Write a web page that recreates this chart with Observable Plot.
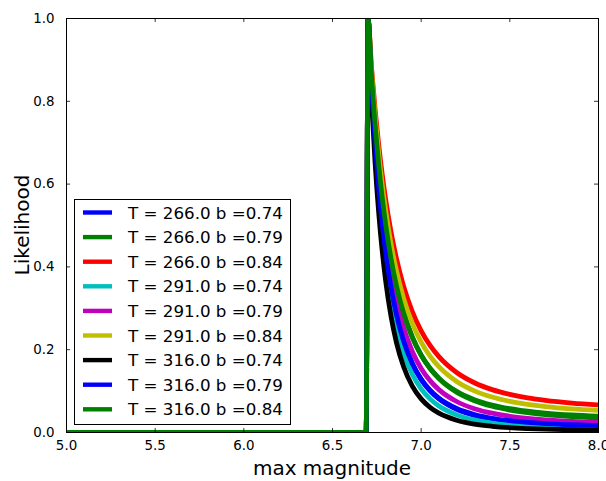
<!DOCTYPE html>
<html><head><meta charset="utf-8">
<script src="https://cdn.jsdelivr.net/npm/d3@7"></script>
<script src="https://cdn.jsdelivr.net/npm/@observablehq/plot@0.6"></script>
<style>
html,body{margin:0;padding:0;background:#fff;}
#chart{width:606px;height:481px;}
</style></head><body><div id="chart"></div>
<script>
// x grid (max magnitude)
const magnitudes = [5.0, 6.69, 6.70, 6.72, 6.74, 6.76, 6.78, 6.80, 6.83, 6.86, 6.90, 6.95, 7.00, 7.05, 7.10, 7.20, 7.30, 7.40, 7.50, 7.60, 7.70, 7.85, 8.00];
const periods = [266.0, 291.0, 316.0];
const bValues = [0.74, 0.79, 0.84];
const seriesColors = ["#0000ff", "#008000", "#ff0000", "#00bfbf", "#bf00bf", "#bfbf00", "#000000", "#0000ff", "#008000"];
// likelihood values
const L_266_074 = [0, 0, 1, .8366, .7048, .5977, .5102, .4381, .3526, .2873, .2227, .1664, .1278, .1006, .0810, .0558, .0411, .0320, .0260, .0220, .0191, .0162, .0144];
const L_266_079 = [0, 0, 1, .8625, .7485, .6533, .5735, .5062, .4238, .3587, .2918, .2307, .1868, .1545, .1302, .0972, .0768, .0634, .0543, .0479, .0433, .0385, .0354];
const L_266_084 = [0, 0, 1, .8818, .7818, .6968, .6243, .5620, .4842, .4212, .3547, .2922, .2457, .2104, .1832, .1449, .1202, .1035, .0919, .0835, .0774, .0710, .0667];
const L_291_074 = [0, 0, 1, .8228, .6821, .5696, .4790, .4056, .3197, .2556, .1934, .1407, .1054, .0812, .0640, .0426, .0304, .0231, .0185, .0153, .0132, .0110, .0097];
const L_291_079 = [0, 0, 1, .8483, .7245, .6229, .5389, .4690, .3849, .3198, .2541, .1957, .1548, .1253, .1036, .0749, .0576, .0466, .0392, .0341, .0304, .0267, .0243];
const L_291_084 = [0, 0, 1, .8725, .7658, .6760, .6001, .5355, .4556, .3917, .3252, .2635, .2184, .1846, .1589, .1232, .1006, .0856, .0752, .0678, .0625, .0569, .0532];
const L_316_074 = [0, 0, 1, .8044, .6526, .5337, .4400, .3654, .2803, .2184, .1600, .1121, .0813, .0607, .0466, .0296, .0203, .0150, .0116, .0095, .0080, .0066, .0057];
const L_316_079 = [0, 0, 1, .8347, .7020, .5947, .5071, .4354, .3505, .2859, .2222, .1668, .1289, .1022, .0829, .0580, .0435, .0344, .0285, .0245, .0216, .0187, .0169];
const L_316_084 = [0, 0, 1, .8603, .7450, .6493, .5693, .5020, .4201, .3556, .2896, .2296, .1866, .1551, .1314, .0993, .0794, .0664, .0576, .0514, .0469, .0423, .0393];
const likelihoods = [L_266_074, L_266_079, L_266_084, L_291_074, L_291_079, L_291_084, L_316_074, L_316_079, L_316_084];
const xTicks = [5.0, 5.5, 6.0, 6.5, 7.0, 7.5, 8.0];
const yTicks = [0.0, 0.2, 0.4, 0.6, 0.8, 1.0];
const xLabel = "max magnitude";
const yLabel = "Likelihood";

const series = [];
periods.forEach((T, i) => bValues.forEach((b, j) => {
  const k = i * 3 + j;
  series.push({label: `T = ${T.toFixed(1)} b =${b.toFixed(2)}`, color: seriesColors[k],
    rows: magnitudes.map((m, idx) => ({m, L: likelihoods[k][idx]}))});
}));

const W = 606, H = 481, mL = 66, mR = 8, mT = 18, mB = 49;
const innerW = W - mL - mR, innerH = H - mT - mB, tickLen = 4;
const plot = Plot.plot({
  width: W, height: H,
  marginLeft: mL, marginRight: mR, marginTop: mT, marginBottom: mB,
  style: {fontFamily: "'DejaVu Sans', sans-serif", fontSize: "13.4px", color: "#000", background: "#fff", overflow: "visible"},
  x: {domain: [5, 8], label: null},
  y: {domain: [0, 1], label: null},
  marks: [
    ...series.map(s => Plot.line(s.rows, {x: "m", y: "L", stroke: s.color, strokeWidth: 4.8, curve: "monotone-x", clip: true, strokeLinejoin: "round", strokeLinecap: "butt"})),
    Plot.frame({stroke: "#000", strokeWidth: 1}),
    // inward ticks on all four sides
    Plot.tickX(xTicks, {x: d => d, stroke: "#000", strokeWidth: 0.8, insetTop: innerH - tickLen}),
    Plot.tickX(xTicks, {x: d => d, stroke: "#000", strokeWidth: 0.8, insetBottom: innerH - tickLen}),
    Plot.tickY(yTicks, {y: d => d, stroke: "#000", strokeWidth: 0.8, insetRight: innerW - tickLen}),
    Plot.tickY(yTicks, {y: d => d, stroke: "#000", strokeWidth: 0.8, insetLeft: innerW - tickLen}),
    Plot.axisX(xTicks, {anchor: "bottom", tickSize: 0, tickPadding: 8, tickFormat: d => d.toFixed(1), label: null}),
    Plot.axisY(yTicks, {anchor: "left", tickSize: 0, tickPadding: 12, tickFormat: d => d.toFixed(1), label: null})
  ]
});
document.getElementById("chart").appendChild(plot);

const svg = d3.select(plot);
const xs = plot.scale("x"), ys = plot.scale("y");
const cx = (xs.range[0] + xs.range[1]) / 2, cy = (ys.range[0] + ys.range[1]) / 2;
svg.append("text").attr("x", cx).attr("y", 475).attr("text-anchor", "middle")
  .attr("font-family", "DejaVu Sans").attr("font-size", 20).attr("fill", "#000").text(xLabel);
svg.append("text").attr("transform", `translate(29,${cy}) rotate(-90)`).attr("text-anchor", "middle")
  .attr("font-family", "DejaVu Sans").attr("font-size", 20).attr("fill", "#000").text(yLabel);

// legend
const lg = svg.append("g").attr("text-anchor", "start");
lg.append("rect").attr("x", 74.5).attr("y", 199.5).attr("width", 216).attr("height", 225)
  .attr("fill", "#fff").attr("stroke", "#000").attr("stroke-width", 1);
series.forEach((s, i) => {
  const y = 212.5 + 24.6 * i;
  lg.append("line").attr("x1", 83).attr("x2", 112).attr("y1", y).attr("y2", y)
    .attr("stroke", s.color).attr("stroke-width", 4.4);
  lg.append("text").attr("x", 128).attr("y", y).attr("dy", "0.36em").attr("text-anchor", "start")
    .attr("font-family", "DejaVu Sans").attr("font-size", 16.7).attr("fill", "#000").text(s.label);
});
</script></body></html>
